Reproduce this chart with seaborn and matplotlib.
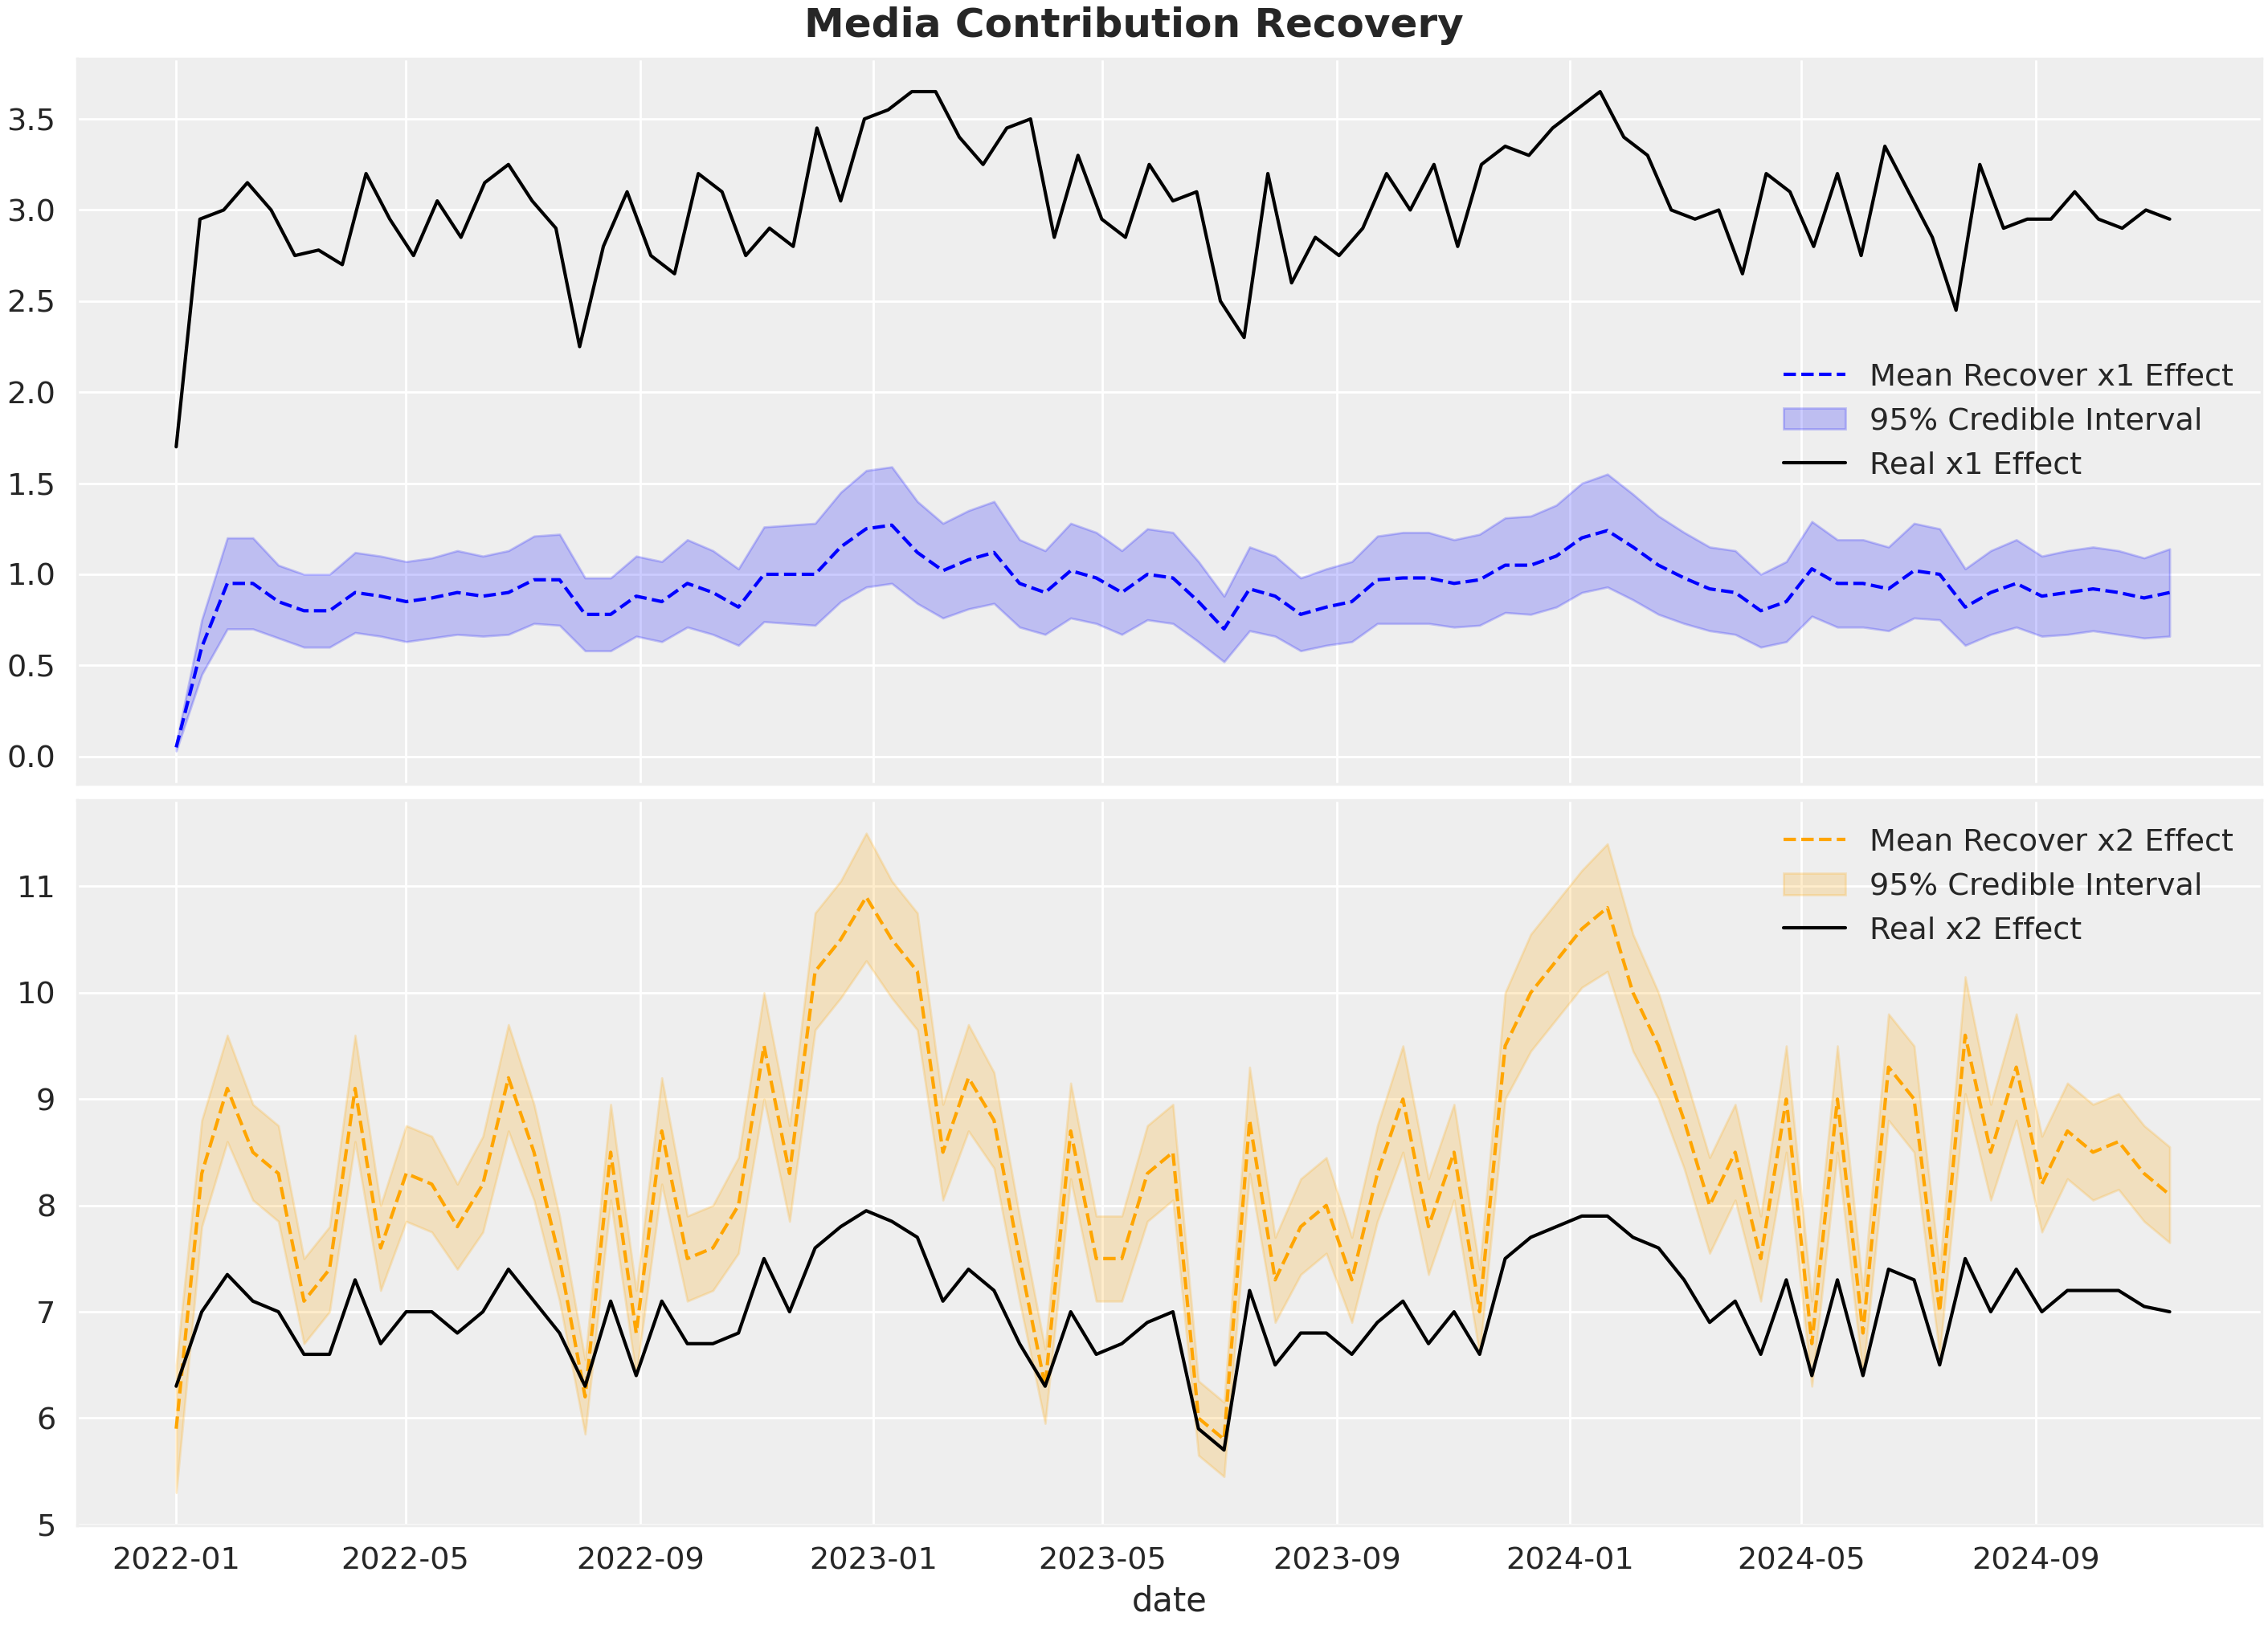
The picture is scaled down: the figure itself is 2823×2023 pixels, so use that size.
import pandas as pd
import matplotlib.pyplot as plt
import seaborn as sns

# values (roughly every two weeks)
x1_real = [1.7, 2.95, 3.0, 3.15, 3.0, 2.75, 2.78, 2.7, 3.2, 2.95, 2.75, 3.05, 2.85,
           3.15, 3.25, 3.05, 2.9, 2.25, 2.8, 3.1, 2.75, 2.65, 3.2, 3.1, 2.75, 2.9, 2.8, 3.45, 3.05,
           3.5, 3.55, 3.65, 3.65, 3.4, 3.25, 3.45, 3.5, 2.85, 3.3, 2.95, 2.85, 3.25, 3.05, 3.1,
           2.5, 2.3, 3.2, 2.6, 2.85, 2.75, 2.9, 3.2, 3.0, 3.25, 2.8, 3.25, 3.35, 3.3, 3.45, 3.55,
           3.65, 3.4, 3.3, 3.0, 2.95, 3.0, 2.65, 3.2, 3.1, 2.8, 3.2, 2.75, 3.35, 3.1, 2.85, 2.45,
           3.25, 2.9, 2.95, 2.95, 3.1, 2.95, 2.9, 3.0, 2.95]
x1_mean = [0.05, 0.6, 0.95, 0.95, 0.85, 0.8, 0.8, 0.9, 0.88, 0.85, 0.87, 0.9, 0.88, 0.9, 0.97, 0.97,
           0.78, 0.78, 0.88, 0.85, 0.95, 0.9, 0.82, 1.0, 1.0, 1.0, 1.15, 1.25, 1.27, 1.12, 1.02, 1.08,
           1.12, 0.95, 0.9, 1.02, 0.98, 0.9, 1.0, 0.98, 0.85, 0.7, 0.92, 0.88, 0.78, 0.82, 0.85, 0.97,
           0.98, 0.98, 0.95, 0.97, 1.05, 1.05, 1.1, 1.2, 1.24, 1.15, 1.05, 0.98, 0.92, 0.9, 0.8, 0.85,
           1.03, 0.95, 0.95, 0.92, 1.02, 1.0, 0.82, 0.9, 0.95, 0.88, 0.9, 0.92, 0.9, 0.87, 0.9]
x1_halfwidth = [0.02, 0.15, 0.25, 0.25, 0.2, 0.2, 0.2, 0.22, 0.22, 0.22, 0.22, 0.23, 0.22, 0.23, 0.24, 0.25,
                0.2, 0.2, 0.22, 0.22, 0.24, 0.23, 0.21, 0.26, 0.27, 0.28, 0.3, 0.32, 0.32, 0.28, 0.26, 0.27,
                0.28, 0.24, 0.23, 0.26, 0.25, 0.23, 0.25, 0.25, 0.22, 0.18, 0.23, 0.22, 0.2, 0.21, 0.22, 0.24,
                0.25, 0.25, 0.24, 0.25, 0.26, 0.27, 0.28, 0.3, 0.31, 0.29, 0.27, 0.25, 0.23, 0.23, 0.2, 0.22,
                0.26, 0.24, 0.24, 0.23, 0.26, 0.25, 0.21, 0.23, 0.24, 0.22, 0.23, 0.23, 0.23, 0.22, 0.24]

x2_real = [6.3, 7.0, 7.35, 7.1, 7.0, 6.6, 6.6, 7.3, 6.7, 7.0, 7.0, 6.8, 7.0, 7.4, 7.1, 6.8, 6.3, 7.1,
           6.4, 7.1, 6.7, 6.7, 6.8, 7.5, 7.0, 7.6, 7.8, 7.95, 7.85, 7.7, 7.1, 7.4, 7.2, 6.7, 6.3, 7.0,
           6.6, 6.7, 6.9, 7.0, 5.9, 5.7, 7.2, 6.5, 6.8, 6.8, 6.6, 6.9, 7.1, 6.7, 7.0, 6.6, 7.5, 7.7,
           7.8, 7.9, 7.9, 7.7, 7.6, 7.3, 6.9, 7.1, 6.6, 7.3, 6.4, 7.3, 6.4, 7.4, 7.3, 6.5, 7.5, 7.0,
           7.4, 7.0, 7.2, 7.2, 7.2, 7.05, 7.0]
x2_mean = [5.9, 8.3, 9.1, 8.5, 8.3, 7.1, 7.4, 9.1, 7.6, 8.3, 8.2, 7.8, 8.2, 9.2, 8.5, 7.5, 6.2, 8.5,
           6.8, 8.7, 7.5, 7.6, 8.0, 9.5, 8.3, 10.2, 10.5, 10.9, 10.5, 10.2, 8.5, 9.2, 8.8, 7.5, 6.3, 8.7,
           7.5, 7.5, 8.3, 8.5, 6.0, 5.8, 8.8, 7.3, 7.8, 8.0, 7.3, 8.3, 9.0, 7.8, 8.5, 7.0, 9.5, 10.0,
           10.3, 10.6, 10.8, 10.0, 9.5, 8.8, 8.0, 8.5, 7.5, 9.0, 6.7, 9.0, 6.8, 9.3, 9.0, 7.0, 9.6, 8.5,
           9.3, 8.2, 8.7, 8.5, 8.6, 8.3, 8.1]
x2_halfwidth = [0.6, 0.5, 0.5, 0.45, 0.45, 0.4, 0.4, 0.5, 0.4, 0.45, 0.45, 0.4, 0.45, 0.5, 0.45, 0.4, 0.35, 0.45,
                0.4, 0.5, 0.4, 0.4, 0.45, 0.5, 0.45, 0.55, 0.55, 0.6, 0.55, 0.55, 0.45, 0.5, 0.45, 0.4, 0.35, 0.45,
                0.4, 0.4, 0.45, 0.45, 0.35, 0.35, 0.5, 0.4, 0.45, 0.45, 0.4, 0.45, 0.5, 0.45, 0.45, 0.4, 0.5, 0.55,
                0.55, 0.55, 0.6, 0.55, 0.5, 0.45, 0.45, 0.45, 0.4, 0.5, 0.4, 0.5, 0.4, 0.5, 0.5, 0.4, 0.55, 0.45,
                0.5, 0.45, 0.45, 0.45, 0.45, 0.45, 0.45]

start, end = "2022-01-01", "2024-11-10"

sns.set_theme(style="darkgrid", context="notebook", font_scale=1.25,
              rc={"axes.facecolor": "#eeeeee", "grid.color": "white", "axes.edgecolor": "#eeeeee"})

fig, axes = plt.subplots(2, 1, figsize=(14.115, 10.115), dpi=200, sharex=True, layout="constrained")

# --- x1 ---
d1 = pd.date_range(start, end, periods=len(x1_mean))
d1r = pd.date_range(start, end, periods=len(x1_real))
low1 = [m - h for m, h in zip(x1_mean, x1_halfwidth)]
high1 = [m + h for m, h in zip(x1_mean, x1_halfwidth)]
ax = axes[0]
sns.lineplot(x=d1, y=x1_mean, ax=ax, color="blue", linestyle="--", label="Mean Recover x1 Effect")
ax.fill_between(d1, low1, high1, color="blue", alpha=0.2, label="95% Credible Interval")
sns.lineplot(x=d1r, y=x1_real, ax=ax, color="black", label="Real x1 Effect")
ax.legend(loc="center right", frameon=False)
ax.set_yticks([0, 0.5, 1.0, 1.5, 2.0, 2.5, 3.0, 3.5])

# --- x2 ---
d2 = pd.date_range(start, end, periods=len(x2_mean))
d2r = pd.date_range(start, end, periods=len(x2_real))
low2 = [m - h for m, h in zip(x2_mean, x2_halfwidth)]
high2 = [m + h for m, h in zip(x2_mean, x2_halfwidth)]
ax = axes[1]
sns.lineplot(x=d2, y=x2_mean, ax=ax, color="orange", linestyle="--", label="Mean Recover x2 Effect")
ax.fill_between(d2, low2, high2, color="orange", alpha=0.2, label="95% Credible Interval")
sns.lineplot(x=d2r, y=x2_real, ax=ax, color="black", label="Real x2 Effect")
ax.legend(loc="upper right", frameon=False)
ax.set_xlabel("date")
ax.set_xlim(pd.Timestamp("2021-11-10"), pd.Timestamp("2024-12-28"))

fig.suptitle("Media Contribution Recovery", fontsize=18, fontweight="bold")
plt.savefig("out.png", dpi=200)
